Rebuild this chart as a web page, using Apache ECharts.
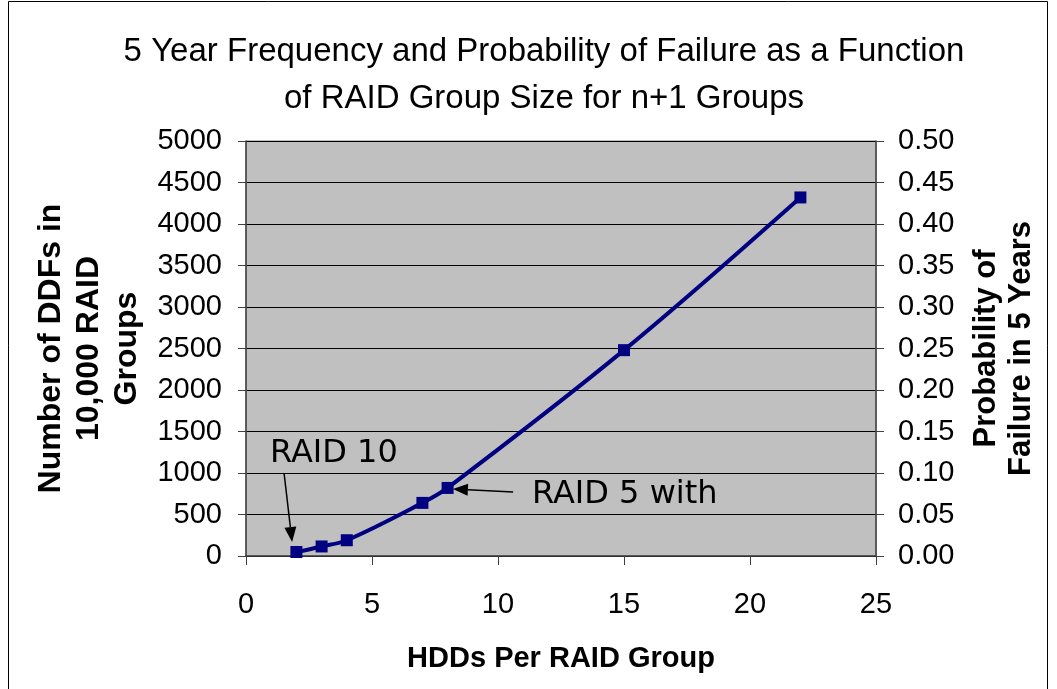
<!DOCTYPE html>
<html>
<head>
<meta charset="utf-8">
<script src="https://cdn.jsdelivr.net/npm/echarts@6/dist/echarts.min.js"></script>
<style>
html,body{margin:0;padding:0;background:#fff;}
#c{width:1057px;height:689px;}
</style>
</head>
<body>
<div id="c"></div>
<script>
// ---- data ----
var hdds = [2, 3, 4, 7, 8, 15, 22];
var ddfs = [48, 115, 190, 640, 820, 2480, 4320];
var titleLines = ['5 Year Frequency and Probability of Failure as a Function', 'of RAID Group Size for n+1 Groups'];
var xName = 'HDDs Per RAID Group';
var yLeftName = 'Number of DDFs in\n10,000 RAID\nGroups';
var yRightName = 'Probability of\nFailure in 5 Years';
// annotations in data coordinates
var annoText = ['RAID 10', 'RAID 5 with'];
var annoTextPos = [[0.95, 1230], [11.35, 735]];
var annoArrowFrom = [[1.51, 1000], [10.6, 771]];
var annoArrowTo = [[1.83, 169], [8.21, 807]];

var chart = echarts.init(document.getElementById('c'), null, {renderer: 'canvas'});
var FONT = '"Liberation Sans", Arial, sans-serif';

var option = {
  animation: false,
  backgroundColor: '#ffffff',
  title: {
    text: titleLines.join('\n'),
    left: 539,
    textAlign: 'center',
    top: 23,
    textStyle: {fontFamily: FONT, fontSize: 33, fontWeight: 'normal', color: '#000', lineHeight: 47}
  },
  grid: {
    left: 246, right: 181, top: 141, bottom: 133,
    show: true, backgroundColor: '#c0c0c0', borderColor: '#808080', borderWidth: 1
  },
  xAxis: {
    type: 'value', min: 0, max: 25, interval: 5,
    name: xName, nameLocation: 'middle', nameGap: 88,
    nameTextStyle: {fontFamily: FONT, fontSize: 29, fontWeight: 'bold', color: '#000'},
    axisLine: {show: true, lineStyle: {color: '#404040', width: 1.5}},
    axisTick: {show: true, length: 9, lineStyle: {color: '#404040', width: 1}},
    axisLabel: {fontFamily: FONT, fontSize: 29, color: '#000', margin: 34},
    splitLine: {show: false}
  },
  yAxis: [{
    type: 'value', min: 0, max: 5000, interval: 500, position: 'left',
    name: yLeftName, nameLocation: 'middle', nameGap: 96, nameRotate: 90,
    nameTextStyle: {fontFamily: FONT, fontSize: 32, fontWeight: 'bold', color: '#000', lineHeight: 38, align: 'center'},
    axisLine: {show: true, lineStyle: {color: '#404040', width: 1.5}},
    axisTick: {show: true, length: 8, lineStyle: {color: '#404040', width: 1}},
    axisLabel: {fontFamily: FONT, fontSize: 29, color: '#000', margin: 24,
      formatter: function (v) { return String(v); }},
    splitLine: {show: true, lineStyle: {color: '#000', width: 1}}
  }, {
    type: 'value', min: 0, max: 0.5, interval: 0.05, position: 'right',
    name: yRightName, nameLocation: 'middle', nameGap: 93, nameRotate: 90,
    nameTextStyle: {fontFamily: FONT, fontSize: 31, fontWeight: 'bold', color: '#000', lineHeight: 35, align: 'center'},
    axisLine: {show: true, lineStyle: {color: '#404040', width: 1.5}},
    axisTick: {show: true, length: 8, lineStyle: {color: '#404040', width: 1}},
    axisLabel: {fontFamily: FONT, fontSize: 29, color: '#000', margin: 22,
      formatter: function (v) { return v.toFixed(2); }},
    splitLine: {show: false}
  }],
  series: [{
    type: 'line',
    data: hdds.map(function (x, i) { return [x, ddfs[i]]; }),
    smooth: 0.35,
    symbol: 'rect', symbolSize: 12,
    lineStyle: {color: '#000080', width: 4},
    itemStyle: {color: '#000080'},
    z: 5
  }]
};
chart.setOption(option);

function drawAnnotations() {
  var g = [];
  g.push({type: 'rect', shape: {x: 8.5, y: 1.5, width: 1039, height: 720},
    style: {fill: 'none', stroke: '#000', lineWidth: 1}, silent: true, z: 0});
  for (var i = 0; i < annoText.length; i++) {
    var tp = chart.convertToPixel({gridIndex: 0}, annoTextPos[i]);
    g.push({type: 'text', x: tp[0], y: tp[1],
      style: {text: annoText[i], font: '32px "DejaVu Sans", Verdana, sans-serif', fill: '#000', textVerticalAlign: 'middle', textAlign: 'left'},
      z: 10});
    var a = chart.convertToPixel({gridIndex: 0}, annoArrowFrom[i]);
    var b = chart.convertToPixel({gridIndex: 0}, annoArrowTo[i]);
    var dx = b[0] - a[0], dy = b[1] - a[1];
    var len = Math.sqrt(dx * dx + dy * dy);
    var ux = dx / len, uy = dy / len;
    var hl = 15, hw = 6;
    var bx = b[0] - ux * hl, by = b[1] - uy * hl;
    g.push({type: 'line', shape: {x1: a[0], y1: a[1], x2: bx, y2: by},
      style: {stroke: '#000', lineWidth: 1.5}, z: 10});
    g.push({type: 'polygon', shape: {points: [[b[0], b[1]], [bx - uy * hw, by + ux * hw], [bx + uy * hw, by - ux * hw]]},
      style: {fill: '#000'}, z: 10});
  }
  chart.setOption({graphic: {elements: g}});
}
drawAnnotations();
</script>
</body>
</html>
